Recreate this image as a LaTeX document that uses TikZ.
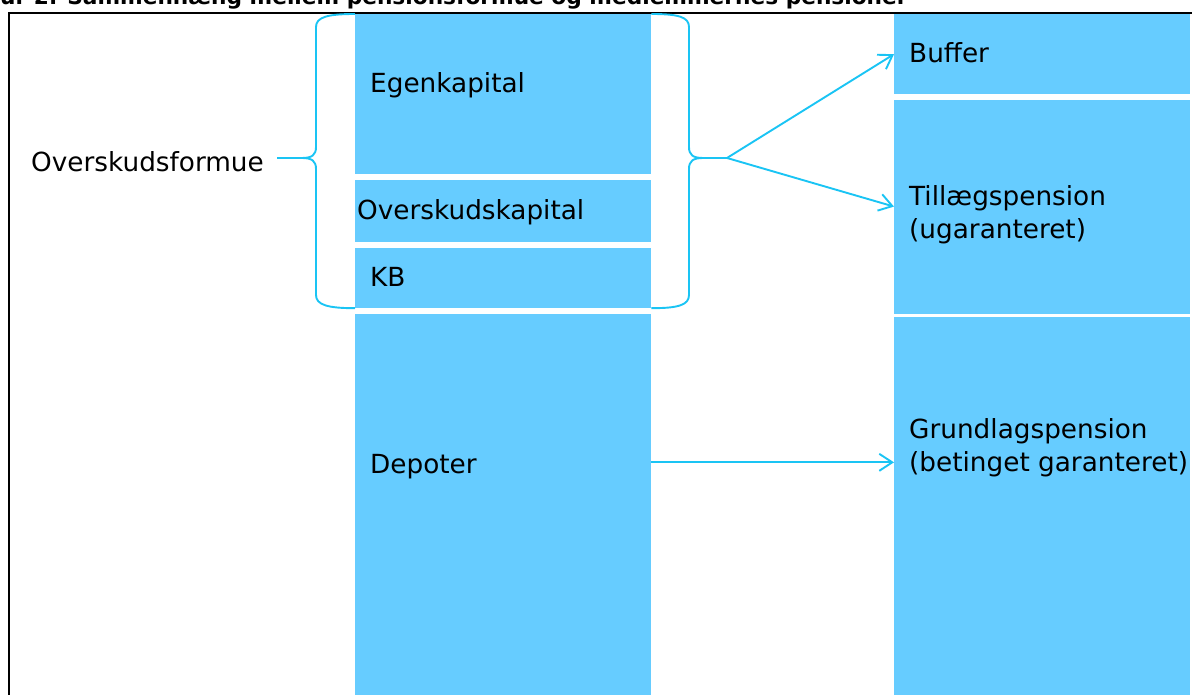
\documentclass[tikz,border=0pt]{standalone}
\usepackage{fontspec}
\setmainfont{DejaVu Sans}
\usepackage{tikz}
\usetikzlibrary{arrows.meta, positioning, calc}

\definecolor{boxblue}{HTML}{66CCFF}
\definecolor{klammecyan}{HTML}{1AC4F4}

\begin{document}
\begin{tikzpicture}[>={Straight Barb[length=13pt, width=17pt]},
    kasse/.style={rectangle, fill=boxblue, inner sep=0pt, minimum width=296pt, anchor=north west},
    lbl/.style={inner sep=0pt, anchor=base west, align=left, font=\fontsize{26.3}{33}\selectfont},
    klamme/.style={draw=klammecyan, line width=1.9pt},
    pil/.style={->, draw=klammecyan, line width=1.9pt}]

    \useasboundingbox (0pt,0pt) rectangle (1192pt,695pt);

    \node (titel) [inner sep=0pt, anchor=base west, font=\bfseries\fontsize{21.7}{26}\selectfont] at (0pt,690.5pt) {ur 2. Sammenhæng mellem pensionsformue og medlemmernes pensioner};
    \draw[line width=1.5pt] (9pt,-20pt) |- (1210pt,682pt);

    %% venstre soejle
    \node (ek) [kasse, minimum height=160pt] at (355pt,681pt) {};
    \node (ok) [kasse, minimum height=62pt, below=5pt of ek] {};
    \node (kb) [kasse, minimum height=60pt, below=6pt of ok] {};
    \node (dep) [kasse, minimum height=420pt, below=6pt of kb] {};

    \node (eklbl) [lbl] at ([shift={(15pt,-79pt)}]ek.north west) {Egenkapital};
    \node (oklbl) [lbl] at ([shift={(2pt,-40pt)}]ok.north west) {Overskudskapital};
    \node (kblbl) [lbl] at ([shift={(15pt,-39pt)}]kb.north west) {KB};
    \node (deplbl) [lbl] at ([shift={(15pt,-159pt)}]dep.north west) {Depoter};

    %% hoejre soejle
    \node (buf) [kasse, minimum height=80pt] at (894pt,681pt) {};
    \node (tp) [kasse, minimum height=214pt, below=5pt of buf] {};
    \node (gp) [kasse, minimum height=420pt, below=3pt of tp] {};

    \node (buflbl) [lbl] at ([shift={(15pt,-49pt)}]buf.north west) {Buffer};
    \node (tplbl) [lbl] at ([shift={(15pt,-139pt)}]tp.north west) {Tillægspension\\(ugaranteret)};
    \node (gplbl) [lbl] at ([shift={(15pt,-155pt)}]gp.north west) {Grundlagspension\\(betinget garanteret)};

    %% klammer
    \coordinate (ltip) at (277pt,537pt);
    \coordinate (rtip) at (727pt,537pt);
    \draw[klamme] (ek.north west) .. controls +(-27pt,0pt) and +(0pt,10pt) .. (316pt,668pt) -- (316pt,548pt)
        .. controls +(0pt,-8pt) and +(10pt,0pt) .. (302pt,537pt)
        .. controls +(10pt,0pt) and +(0pt,8pt) .. (316pt,526pt) -- (316pt,400pt)
        .. controls +(0pt,-10pt) and +(-27pt,0pt) .. (kb.south west);
    \draw[klamme] (302pt,537pt) -- (ltip);
    \draw[klamme] (ek.north east) .. controls +(27pt,0pt) and +(0pt,10pt) .. (689pt,668pt) -- (689pt,548pt)
        .. controls +(0pt,-8pt) and +(-10pt,0pt) .. (703pt,537pt)
        .. controls +(-10pt,0pt) and +(0pt,8pt) .. (689pt,526pt) -- (689pt,400pt)
        .. controls +(0pt,-10pt) and +(27pt,0pt) .. (kb.south east);
    \draw[klamme] (703pt,537pt) -- (rtip);

    \node (osf) [lbl, anchor=east, left=13pt of ltip, yshift=-4pt] {Overskudsformue};

    %% pile
    \draw[pil] (rtip) -- (buf.west);
    \draw[pil] (rtip) -- (tp.west);
    \draw[pil] ([yshift=4pt]deplbl.west -| dep.east) -- ([yshift=4pt]deplbl.west -| gp.west);

\end{tikzpicture}
\end{document}
